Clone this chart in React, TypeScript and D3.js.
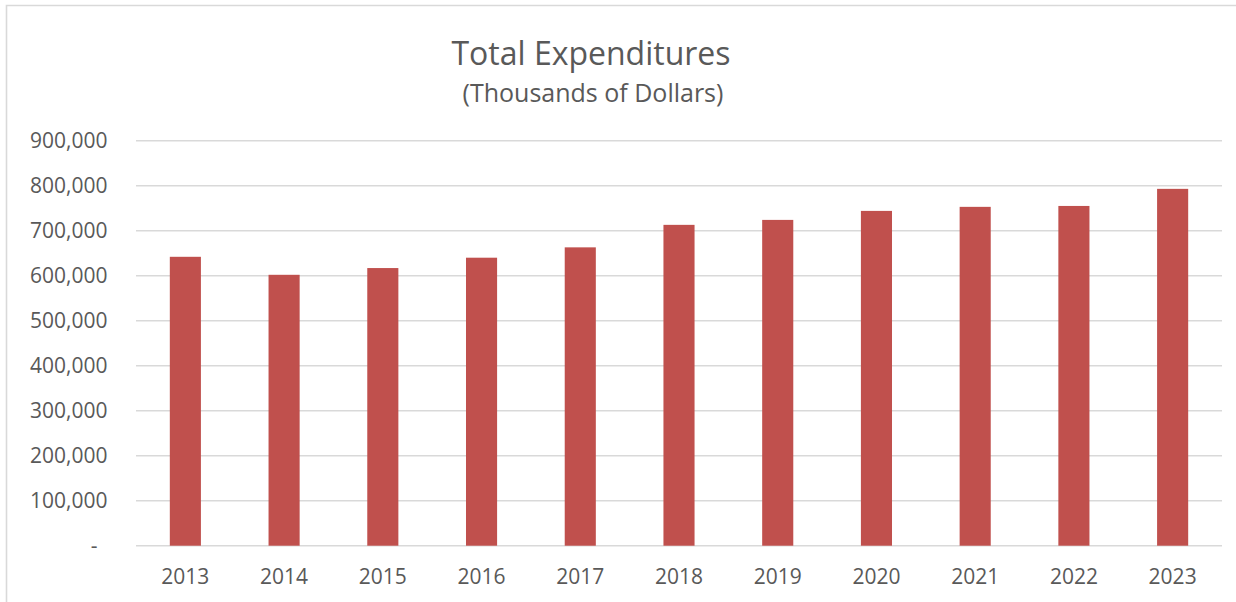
import React from "react";
import * as d3 from "d3";

const years = ["2013", "2014", "2015", "2016", "2017", "2018", "2019", "2020", "2021", "2022", "2023"];
const expenditures = [642000, 602000, 617000, 640000, 663000, 713000, 724000, 744000, 753000, 755000, 793000];
const yTicks = [0, 100000, 200000, 300000, 400000, 500000, 600000, 700000, 800000, 900000];
const title = "Total Expenditures";
const subtitle = "(Thousands of Dollars)";

const W = 1236;
const H = 602;
const plot = { left: 136, right: 1222, top: 140.7, bottom: 545.7 };
const FONT = "'Open Sans', sans-serif";
const TEXT = "#595959";
const GRID = "#D9D9D9";
const BAR = "#C0504D";

export default function App() {
  const x = d3.scaleBand<string>().domain(years).range([plot.left, plot.right]).paddingInner(0.685).paddingOuter(0.3425);
  const y = d3.scaleLinear().domain([0, 900000]).range([plot.bottom, plot.top]);
  const fmt = d3.format(",");
  return (
    <svg width={W} height={H} style={{ position: "absolute", left: 0, top: 0, background: "#fff" }}>
      <rect x={0} y={0} width={W} height={H} fill="#fff" />
      <path d={`M6.5,${H + 5} V5.5 H${W + 5}`} fill="none" stroke={GRID} strokeWidth={1.6} />
      <text x={591} y={65} textAnchor="middle" fontFamily={FONT} fontSize={32} fill={TEXT}>
        {title}
      </text>
      <text x={593} y={102} textAnchor="middle" fontFamily={FONT} fontSize={25} fill={TEXT}>
        {subtitle}
      </text>
      {yTicks.map((t) => (
        <g key={t}>
          <line x1={plot.left} x2={plot.right} y1={y(t)} y2={y(t)} stroke={GRID} strokeWidth={1.5} />
          <text
            x={t === 0 ? 97.5 : 107.5}
            y={y(t)}
            dy="0.36em"
            textAnchor="end"
            fontFamily={FONT}
            fontSize={21}
            fill={TEXT}
          >
            {t === 0 ? "-" : fmt(t)}
          </text>
        </g>
      ))}
      {years.map((yr, i) => (
        <rect
          key={yr}
          x={x(yr)}
          y={y(expenditures[i])}
          width={x.bandwidth()}
          height={y(0) - y(expenditures[i])}
          fill={BAR}
        />
      ))}
      {years.map((yr) => (
        <text
          key={yr}
          x={(x(yr) as number) + x.bandwidth() / 2}
          y={584}
          textAnchor="middle"
          fontFamily={FONT}
          fontSize={21}
          fill={TEXT}
        >
          {yr}
        </text>
      ))}
    </svg>
  );
}
